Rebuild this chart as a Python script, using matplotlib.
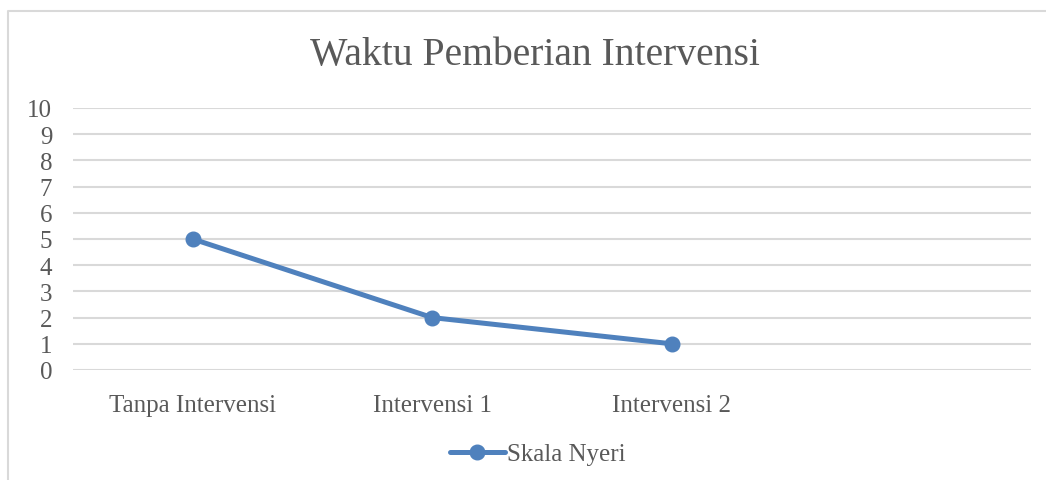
import matplotlib
matplotlib.use('Agg')
import matplotlib.pyplot as plt
from matplotlib.lines import Line2D

# chart data
categories = ['Tanpa Intervensi', 'Intervensi 1', 'Intervensi 2', '']
skala_nyeri = [5, 2, 1]
y_ticks = list(range(0, 11))

blue = '#4F81BD'
grey_text = '#595959'
grid_col = '#D9D9D9'

plt.rcParams['font.family'] = ['Liberation Serif', 'DejaVu Serif']

fig = plt.figure(figsize=(10.46, 4.81), dpi=100)
ax = fig.add_axes([73 / 1046, 1 - 371 / 481, (1031 - 73) / 1046, (371 - 109) / 481])

x = list(range(len(skala_nyeri)))
line, = ax.plot(x, skala_nyeri, color=blue, linewidth=3.6, marker='o',
                markersize=10.5, label='Skala Nyeri', solid_capstyle='round', zorder=3)

ax.set_xlim(-0.5, len(categories) - 0.5)
ax.set_ylim(0, 10)
ax.set_yticks(y_ticks)
ax.set_xticks(range(len(categories)))
ax.set_xticklabels(categories)

ax.grid(axis='y', color=grid_col, linewidth=1.5)
ax.set_axisbelow(True)
for s in ax.spines.values():
    s.set_visible(False)
ax.tick_params(axis='both', length=0, labelsize=18, colors=grey_text)
ax.tick_params(axis='y', pad=15)
ax.tick_params(axis='x', pad=17)

fig.text(535 / 1046, 1 - 55 / 481, 'Waktu Pemberian Intervensi', ha='center', va='center',
         fontsize=28.5, color=grey_text)

leg = fig.legend(handles=[line], loc='center', bbox_to_anchor=(538 / 1046, 1 - 455 / 481),
                 frameon=False, fontsize=18, handlelength=2.2, handletextpad=0.1,
                 labelcolor=grey_text)

# outer chart border (top and left only visible)
fig.add_artist(Line2D([8 / 1046, 8 / 1046, 1.0], [0.0, 1 - 11.5 / 481, 1 - 11.5 / 481],
                      transform=fig.transFigure, color=grid_col, linewidth=1.5))

fig.savefig('out.png', dpi=100, facecolor='white')
